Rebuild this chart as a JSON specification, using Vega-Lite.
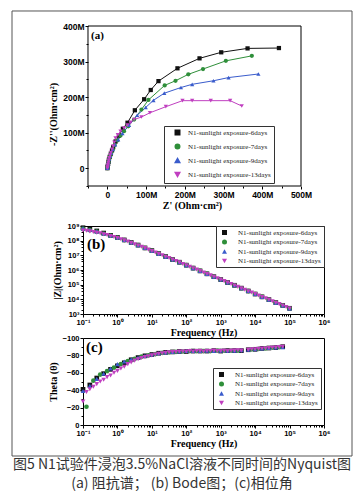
{
"$schema": "https://vega.github.io/schema/vega-lite/v6.json",
"background": "white",
"padding": {"left": 11, "top": 10, "right": 0, "bottom": 0},
"bounds": "flush",
"spacing": 24,
"title": {"text": ["图5 N1试验件浸泡3.5%NaCl溶液不同时间的Nyquist图", "(a) 阻抗谱； (b) Bode图；(c)相位角"], "orient": "bottom", "anchor": "middle", "frame": "bounds", "offset": 1, "font": "Noto Sans CJK SC", "fontSize": 14, "fontWeight": "normal", "color": "#333333", "lineHeight": 19},
"config": {
  "view": {"stroke": "#000000", "strokeWidth": 1},
  "axis": {"domain": false, "grid": false, "ticks": true, "tickColor": "#000000", "tickSize": 3, "labelFont": "Liberation Sans", "labelFontWeight": "bold", "labelFontSize": 7.5, "labelColor": "#000000", "labelPadding": 1, "labelFlush": false, "labelOverlap": false, "titleFont": "Liberation Serif", "titleFontWeight": "bold", "titleFontSize": 10, "titleColor": "#000000"},
  "axisX": {"titlePadding": 2},
  "axisY": {"titlePadding": 4},
  "legend": {"strokeColor": "#333333", "fillColor": "#ffffff", "padding": 3, "labelFont": "Liberation Serif", "labelFontSize": 7, "labelColor": "#222222", "rowPadding": 1.5, "labelLimit": 200, "labelOffset": 10, "symbolOffset": 2}
},
"datasets": {
  "nyq": [
    {"s":"6days","x":0,"y":0},{"s":"6days","x":0.5,"y":3},{"s":"6days","x":1,"y":7},{"s":"6days","x":2,"y":12},{"s":"6days","x":3,"y":18},{"s":"6days","x":4,"y":24},{"s":"6days","x":6,"y":32},{"s":"6days","x":9,"y":41},{"s":"6days","x":12,"y":50},{"s":"6days","x":15,"y":59},{"s":"6days","x":21,"y":75},{"s":"6days","x":30,"y":92},{"s":"6days","x":40,"y":111},{"s":"6days","x":52,"y":128},{"s":"6days","x":71,"y":163},{"s":"6days","x":95,"y":194},{"s":"6days","x":112,"y":220},{"s":"6days","x":132,"y":245},{"s":"6days","x":181,"y":281},{"s":"6days","x":238,"y":309},{"s":"6days","x":294,"y":326},{"s":"6days","x":362,"y":337},{"s":"6days","x":443,"y":338},
    {"s":"7days","x":0,"y":0},{"s":"7days","x":0.5,"y":3},{"s":"7days","x":1,"y":7},{"s":"7days","x":2,"y":13},{"s":"7days","x":3,"y":19},{"s":"7days","x":5,"y":26},{"s":"7days","x":7,"y":34},{"s":"7days","x":10,"y":43},{"s":"7days","x":14,"y":53},{"s":"7days","x":19,"y":65},{"s":"7days","x":26,"y":78},{"s":"7days","x":34,"y":92},{"s":"7days","x":43,"y":104},{"s":"7days","x":54,"y":118},{"s":"7days","x":69,"y":137},{"s":"7days","x":88,"y":165},{"s":"7days","x":106,"y":192},{"s":"7days","x":148,"y":233},{"s":"7days","x":176,"y":246},{"s":"7days","x":209,"y":264},{"s":"7days","x":247,"y":279},{"s":"7days","x":306,"y":302},{"s":"7days","x":373,"y":316},
    {"s":"9days","x":0,"y":0},{"s":"9days","x":0.5,"y":3},{"s":"9days","x":1,"y":7},{"s":"9days","x":2,"y":13},{"s":"9days","x":3,"y":19},{"s":"9days","x":5,"y":26},{"s":"9days","x":7,"y":34},{"s":"9days","x":10,"y":43},{"s":"9days","x":14,"y":53},{"s":"9days","x":20,"y":66},{"s":"9days","x":28,"y":80},{"s":"9days","x":39,"y":98},{"s":"9days","x":56,"y":121},{"s":"9days","x":77,"y":149},{"s":"9days","x":99,"y":171},{"s":"9days","x":119,"y":191},{"s":"9days","x":147,"y":211},{"s":"9days","x":190,"y":227},{"s":"9days","x":219,"y":236},{"s":"9days","x":274,"y":246},{"s":"9days","x":313,"y":255},{"s":"9days","x":390,"y":265},
    {"s":"13days","x":0,"y":0},{"s":"13days","x":0.3,"y":2},{"s":"13days","x":0.8,"y":5},{"s":"13days","x":1.5,"y":10},{"s":"13days","x":2.5,"y":16},{"s":"13days","x":3.5,"y":22},{"s":"13days","x":5,"y":29},{"s":"13days","x":7,"y":37},{"s":"13days","x":9,"y":44},{"s":"13days","x":12,"y":53},{"s":"13days","x":15,"y":62},{"s":"13days","x":18,"y":73},{"s":"13days","x":21,"y":85},{"s":"13days","x":27,"y":94},{"s":"13days","x":34,"y":104},{"s":"13days","x":43,"y":113},{"s":"13days","x":52,"y":121},{"s":"13days","x":60,"y":129},{"s":"13days","x":69,"y":137},{"s":"13days","x":88,"y":144},{"s":"13days","x":110,"y":156},{"s":"13days","x":151,"y":173},{"s":"13days","x":194,"y":190},{"s":"13days","x":219,"y":190},{"s":"13days","x":267,"y":190},{"s":"13days","x":317,"y":190},{"s":"13days","x":347,"y":175}
  ],
  "bode": [
    {"s":"6days","f":0.1,"z":7.6e8},{"s":"6days","f":0.158,"z":6.0e8},{"s":"6days","f":0.251,"z":4.6e8},{"s":"6days","f":0.398,"z":3.3e8},{"s":"6days","f":0.631,"z":2.3e8},{"s":"6days","f":1,"z":1.66e8},{"s":"6days","f":1.58,"z":1.12e8},{"s":"6days","f":2.51,"z":7.6e7},{"s":"6days","f":3.98,"z":5.0e7},{"s":"6days","f":6.31,"z":3.2e7},{"s":"6days","f":10,"z":2.1e7},{"s":"6days","f":15.8,"z":1.32e7},{"s":"6days","f":25.1,"z":8.3e6},{"s":"6days","f":39.8,"z":5.2e6},{"s":"6days","f":63.1,"z":3.4e6},{"s":"6days","f":100,"z":2.14e6},{"s":"6days","f":158,"z":1.35e6},{"s":"6days","f":251,"z":8.7e5},{"s":"6days","f":398,"z":5.5e5},{"s":"6days","f":631,"z":3.5e5},{"s":"6days","f":1000,"z":2.24e5},{"s":"6days","f":1580,"z":1.41e5},{"s":"6days","f":2510,"z":9.1e4},{"s":"6days","f":3980,"z":5.8e4},{"s":"6days","f":6310,"z":3.7e4},{"s":"6days","f":10000,"z":2.3e4},{"s":"6days","f":15800,"z":1.48e4},{"s":"6days","f":25100,"z":9.5e3},{"s":"6days","f":39800,"z":6.0e3},{"s":"6days","f":63100,"z":3.9e3},{"s":"6days","f":100000,"z":2.45e3},
    {"s":"7days","f":0.1,"z":6.3e8},{"s":"7days","f":0.158,"z":5.2e8},{"s":"7days","f":0.251,"z":4.1e8},{"s":"7days","f":0.398,"z":3.0e8},{"s":"7days","f":0.631,"z":2.2e8},{"s":"7days","f":1,"z":1.6e8},{"s":"7days","f":1.58,"z":1.1e8},{"s":"7days","f":2.51,"z":7.5e7},{"s":"7days","f":3.98,"z":4.9e7},{"s":"7days","f":6.31,"z":3.15e7},{"s":"7days","f":10,"z":2.05e7},{"s":"7days","f":15.8,"z":1.3e7},{"s":"7days","f":25.1,"z":8.2e6},{"s":"7days","f":39.8,"z":5.15e6},{"s":"7days","f":63.1,"z":3.35e6},{"s":"7days","f":100,"z":2.12e6},{"s":"7days","f":158,"z":1.34e6},{"s":"7days","f":251,"z":8.6e5},{"s":"7days","f":398,"z":5.45e5},{"s":"7days","f":631,"z":3.45e5},{"s":"7days","f":1000,"z":2.22e5},{"s":"7days","f":1580,"z":1.4e5},{"s":"7days","f":2510,"z":9.0e4},{"s":"7days","f":3980,"z":5.7e4},{"s":"7days","f":6310,"z":3.65e4},{"s":"7days","f":10000,"z":2.3e4},{"s":"7days","f":15800,"z":1.46e4},{"s":"7days","f":25100,"z":9.4e3},{"s":"7days","f":39800,"z":5.95e3},{"s":"7days","f":63100,"z":3.85e3},{"s":"7days","f":100000,"z":2.42e3},
    {"s":"9days","f":0.1,"z":6.9e8},{"s":"9days","f":0.158,"z":5.5e8},{"s":"9days","f":0.251,"z":4.3e8},{"s":"9days","f":0.398,"z":3.1e8},{"s":"9days","f":0.631,"z":2.25e8},{"s":"9days","f":1,"z":1.62e8},{"s":"9days","f":1.58,"z":1.1e8},{"s":"9days","f":2.51,"z":7.5e7},{"s":"9days","f":3.98,"z":4.9e7},{"s":"9days","f":6.31,"z":3.15e7},{"s":"9days","f":10,"z":2.05e7},{"s":"9days","f":15.8,"z":1.3e7},{"s":"9days","f":25.1,"z":8.2e6},{"s":"9days","f":39.8,"z":5.15e6},{"s":"9days","f":63.1,"z":3.35e6},{"s":"9days","f":100,"z":2.12e6},{"s":"9days","f":158,"z":1.34e6},{"s":"9days","f":251,"z":8.6e5},{"s":"9days","f":398,"z":5.45e5},{"s":"9days","f":631,"z":3.45e5},{"s":"9days","f":1000,"z":2.22e5},{"s":"9days","f":1580,"z":1.4e5},{"s":"9days","f":2510,"z":9.0e4},{"s":"9days","f":3980,"z":5.7e4},{"s":"9days","f":6310,"z":3.65e4},{"s":"9days","f":10000,"z":2.3e4},{"s":"9days","f":15800,"z":1.46e4},{"s":"9days","f":25100,"z":9.4e3},{"s":"9days","f":39800,"z":5.95e3},{"s":"9days","f":63100,"z":3.85e3},{"s":"9days","f":100000,"z":2.42e3},
    {"s":"13days","f":0.1,"z":5.0e8},{"s":"13days","f":0.126,"z":4.7e8},{"s":"13days","f":0.158,"z":4.3e8},{"s":"13days","f":0.2,"z":3.9e8},{"s":"13days","f":0.251,"z":3.5e8},{"s":"13days","f":0.316,"z":3.2e8},{"s":"13days","f":0.398,"z":2.75e8},{"s":"13days","f":0.501,"z":2.4e8},{"s":"13days","f":0.631,"z":2.1e8},{"s":"13days","f":0.794,"z":1.78e8},{"s":"13days","f":1,"z":1.5e8},{"s":"13days","f":1.26,"z":1.26e8},{"s":"13days","f":1.58,"z":1.05e8},{"s":"13days","f":2,"z":8.7e7},{"s":"13days","f":2.51,"z":7.1e7},{"s":"13days","f":3.16,"z":5.75e7},{"s":"13days","f":3.98,"z":4.7e7},{"s":"13days","f":5.01,"z":3.8e7},{"s":"13days","f":6.31,"z":3.1e7},{"s":"13days","f":7.94,"z":2.45e7},{"s":"13days","f":10,"z":2.0e7},{"s":"13days","f":12.6,"z":1.58e7},{"s":"13days","f":15.8,"z":1.26e7},{"s":"13days","f":20,"z":1.02e7},{"s":"13days","f":25.1,"z":8.1e6},{"s":"13days","f":31.6,"z":6.5e6},{"s":"13days","f":39.8,"z":5.1e6},{"s":"13days","f":50.1,"z":4.1e6},{"s":"13days","f":63.1,"z":3.3e6},{"s":"13days","f":79.4,"z":2.6e6},{"s":"13days","f":100,"z":2.1e6},{"s":"13days","f":126,"z":1.66e6},{"s":"13days","f":158,"z":1.32e6},{"s":"13days","f":200,"z":1.07e6},{"s":"13days","f":251,"z":8.5e5},{"s":"13days","f":316,"z":6.8e5},{"s":"13days","f":398,"z":5.4e5},{"s":"13days","f":501,"z":4.3e5},{"s":"13days","f":631,"z":3.5e5},{"s":"13days","f":794,"z":2.75e5},{"s":"13days","f":1000,"z":2.2e5},{"s":"13days","f":1260,"z":1.74e5},{"s":"13days","f":1580,"z":1.38e5},{"s":"13days","f":2000,"z":1.12e5},{"s":"13days","f":2510,"z":8.9e4},{"s":"13days","f":3160,"z":7.1e4},{"s":"13days","f":3980,"z":5.6e4},{"s":"13days","f":5010,"z":4.5e4},{"s":"13days","f":6310,"z":3.6e4},{"s":"13days","f":7940,"z":2.9e4},{"s":"13days","f":10000,"z":2.3e4},{"s":"13days","f":12600,"z":1.82e4},{"s":"13days","f":15800,"z":1.45e4},{"s":"13days","f":20000,"z":1.17e4},{"s":"13days","f":25100,"z":9.3e3},{"s":"13days","f":31600,"z":7.4e3},{"s":"13days","f":39800,"z":5.9e3},{"s":"13days","f":50100,"z":4.7e3},{"s":"13days","f":63100,"z":3.8e3},{"s":"13days","f":79400,"z":3.0e3},{"s":"13days","f":100000,"z":2.4e3}
  ],
  "ph": [
    {"s":"6days","f":0.1,"p":-41},{"s":"6days","f":0.158,"p":-46},{"s":"6days","f":0.251,"p":-54},{"s":"6days","f":0.398,"p":-59},{"s":"6days","f":0.631,"p":-64},{"s":"6days","f":1,"p":-68},{"s":"6days","f":1.58,"p":-71.5},{"s":"6days","f":2.51,"p":-75},{"s":"6days","f":3.98,"p":-77.5},{"s":"6days","f":6.31,"p":-79.5},{"s":"6days","f":10,"p":-81},{"s":"6days","f":15.8,"p":-82.5},{"s":"6days","f":25.1,"p":-83.5},{"s":"6days","f":39.8,"p":-84},{"s":"6days","f":63.1,"p":-84.5},{"s":"6days","f":100,"p":-84.5},{"s":"6days","f":158,"p":-85},{"s":"6days","f":251,"p":-85},{"s":"6days","f":398,"p":-85},{"s":"6days","f":631,"p":-85.5},{"s":"6days","f":1000,"p":-85},{"s":"6days","f":1580,"p":-85.5},{"s":"6days","f":2510,"p":-85.5},{"s":"6days","f":3980,"p":-85.5},{"s":"6days","f":6310,"p":-86.5},{"s":"6days","f":10000,"p":-87},{"s":"6days","f":15800,"p":-88},{"s":"6days","f":25100,"p":-88.5},{"s":"6days","f":39800,"p":-89},{"s":"6days","f":63100,"p":-90},
    {"s":"7days","f":0.126,"p":-21},{"s":"7days","f":0.2,"p":-51},{"s":"7days","f":0.316,"p":-58},{"s":"7days","f":0.501,"p":-62},{"s":"7days","f":0.794,"p":-66},{"s":"7days","f":1.26,"p":-70},{"s":"7days","f":2,"p":-73.5},{"s":"7days","f":3.16,"p":-76},{"s":"7days","f":5.01,"p":-78.5},{"s":"7days","f":7.94,"p":-80},{"s":"7days","f":12.6,"p":-81.5},{"s":"7days","f":20,"p":-83},{"s":"7days","f":31.6,"p":-83.5},{"s":"7days","f":50.1,"p":-84},{"s":"7days","f":79.4,"p":-84.5},{"s":"7days","f":126,"p":-85},{"s":"7days","f":200,"p":-85},{"s":"7days","f":316,"p":-85},{"s":"7days","f":501,"p":-85},{"s":"7days","f":794,"p":-85.5},{"s":"7days","f":1260,"p":-85.5},{"s":"7days","f":2000,"p":-85.5},{"s":"7days","f":3160,"p":-85.5},{"s":"7days","f":7940,"p":-87},{"s":"7days","f":12600,"p":-87.5},{"s":"7days","f":20000,"p":-88},{"s":"7days","f":31600,"p":-89},{"s":"7days","f":50100,"p":-89.5},
    {"s":"9days","f":0.1,"p":-39},{"s":"9days","f":0.158,"p":-45},{"s":"9days","f":0.251,"p":-53},{"s":"9days","f":0.398,"p":-59},{"s":"9days","f":0.631,"p":-65},{"s":"9days","f":1,"p":-70},{"s":"9days","f":1.58,"p":-73},{"s":"9days","f":2.51,"p":-75.5},{"s":"9days","f":3.98,"p":-77.5},{"s":"9days","f":6.31,"p":-79.5},{"s":"9days","f":10,"p":-81},{"s":"9days","f":15.8,"p":-82.5},{"s":"9days","f":25.1,"p":-83.5},{"s":"9days","f":39.8,"p":-84},{"s":"9days","f":63.1,"p":-84.5},{"s":"9days","f":100,"p":-85},{"s":"9days","f":158,"p":-85},{"s":"9days","f":251,"p":-85},{"s":"9days","f":398,"p":-85.5},{"s":"9days","f":631,"p":-85},{"s":"9days","f":1000,"p":-85.5},{"s":"9days","f":1580,"p":-85.5},{"s":"9days","f":2510,"p":-85.5},{"s":"9days","f":3980,"p":-86},{"s":"9days","f":6310,"p":-86.5},{"s":"9days","f":10000,"p":-87},{"s":"9days","f":15800,"p":-88},{"s":"9days","f":25100,"p":-88.5},{"s":"9days","f":39800,"p":-89},{"s":"9days","f":63100,"p":-89.5},
    {"s":"13days","f":0.1,"p":-27},{"s":"13days","f":0.126,"p":-38},{"s":"13days","f":0.158,"p":-41},{"s":"13days","f":0.2,"p":-44},{"s":"13days","f":0.251,"p":-47},{"s":"13days","f":0.316,"p":-50},{"s":"13days","f":0.398,"p":-52},{"s":"13days","f":0.501,"p":-55},{"s":"13days","f":0.631,"p":-57},{"s":"13days","f":0.794,"p":-60},{"s":"13days","f":1,"p":-62},{"s":"13days","f":1.26,"p":-65},{"s":"13days","f":1.58,"p":-67},{"s":"13days","f":2,"p":-70},{"s":"13days","f":2.51,"p":-72},{"s":"13days","f":3.16,"p":-74},{"s":"13days","f":3.98,"p":-75.5},{"s":"13days","f":5.01,"p":-77},{"s":"13days","f":6.31,"p":-78},{"s":"13days","f":7.94,"p":-79},{"s":"13days","f":10,"p":-80},{"s":"13days","f":12.6,"p":-81},{"s":"13days","f":15.8,"p":-82},{"s":"13days","f":20,"p":-82.5},{"s":"13days","f":25.1,"p":-83},{"s":"13days","f":31.6,"p":-83.5},{"s":"13days","f":39.8,"p":-84},{"s":"13days","f":50.1,"p":-84},{"s":"13days","f":63.1,"p":-84.5},{"s":"13days","f":79.4,"p":-84.5},{"s":"13days","f":100,"p":-84.5},{"s":"13days","f":126,"p":-85},{"s":"13days","f":158,"p":-84.5},{"s":"13days","f":200,"p":-85},{"s":"13days","f":251,"p":-85},{"s":"13days","f":316,"p":-84.5},{"s":"13days","f":398,"p":-85},{"s":"13days","f":501,"p":-85},{"s":"13days","f":631,"p":-85.5},{"s":"13days","f":794,"p":-85},{"s":"13days","f":1000,"p":-85},{"s":"13days","f":1260,"p":-85.5},{"s":"13days","f":1580,"p":-85},{"s":"13days","f":2000,"p":-85.5},{"s":"13days","f":2510,"p":-85.5},{"s":"13days","f":3160,"p":-86},{"s":"13days","f":3980,"p":-85.5},{"s":"13days","f":6310,"p":-86.5},{"s":"13days","f":7940,"p":-87},{"s":"13days","f":10000,"p":-87},{"s":"13days","f":12600,"p":-87.5},{"s":"13days","f":15800,"p":-88},{"s":"13days","f":20000,"p":-88},{"s":"13days","f":25100,"p":-88.5},{"s":"13days","f":31600,"p":-89},{"s":"13days","f":39800,"p":-89},{"s":"13days","f":50100,"p":-89.5},{"s":"13days","f":63100,"p":-90}
  ]
},
"vconcat": [
  {
    "width": 218, "height": 176,
    "view": {"stroke": null},
    "resolve": {"axis": {"x": "independent", "y": "independent"}},
    "layer": [
      {"data": {"values": [{}]}, "mark": {"type": "rect", "filled": false, "stroke": "#555555", "strokeWidth": 1, "clip": false},
       "encoding": {"x": {"datum": -246.2, "type": "quantitative", "axis": null}, "x2": {"datum": 631.7}, "y": {"datum": 442.2, "type": "quantitative", "axis": null}, "y2": {"datum": -809.4}}},
      {"data": {"values": [{}]}, "mark": {"type": "rect", "filled": false, "stroke": "#000000", "strokeWidth": 1},
       "encoding": {
         "x": {"datum": -50, "type": "quantitative", "axis": {"orient": "bottom", "values": [-50, 50, 150, 250, 350, 450], "offset": -16, "labels": false, "tickSize": 2, "title": null}},
         "x2": {"datum": 500},
         "y": {"datum": 400, "type": "quantitative", "axis": {"orient": "left", "values": [-50, 50, 150, 250, 350], "offset": -5, "labels": false, "tickSize": 2, "title": null}},
         "y2": {"datum": -50}}},
      {"data": {"name": "nyq"}, "mark": {"type": "line", "strokeWidth": 1},
       "encoding": {
         "x": {"field": "x", "type": "quantitative", "scale": {"domain": [-62.9, 500], "nice": false, "zero": false}, "axis": {"orient": "bottom", "values": [0, 100, 200, 300, 400, 500], "offset": -16, "labelExpr": "datum.value == 0 ? '0' : datum.value + 'M'", "labelFontSize": 8.5, "title": "Z' (Ohm·cm²)"}},
         "y": {"field": "y", "type": "quantitative", "scale": {"domain": [-95, 400], "nice": false, "zero": false}, "axis": {"orient": "left", "values": [0, 100, 200, 300, 400], "offset": -5, "labelExpr": "datum.value == 0 ? '0' : datum.value + 'M'", "labelFontSize": 8.5, "title": "-Z''(Ohm·cm²)"}},
         "color": {"field": "s", "type": "nominal", "scale": {"domain": ["6days", "7days", "9days", "13days"], "range": ["#111111", "#2f8f3a", "#3a5ccc", "#c03fc0"]},
           "legend": {"title": null, "orient": "none", "legendX": 81, "legendY": 100, "labelExpr": "'N1-sunlight exposure-' + datum.label", "symbolSize": 20, "rowPadding": 3, "symbolOffset": 7, "labelOffset": 7}}
       }},
      {"data": {"name": "nyq"}, "mark": {"type": "point", "filled": true, "size": 18, "opacity": 1},
       "encoding": {
         "x": {"field": "x", "type": "quantitative", "axis": null},
         "y": {"field": "y", "type": "quantitative", "axis": null},
         "color": {"field": "s", "type": "nominal",
           "legend": {"title": null, "orient": "none", "legendX": 81, "legendY": 100, "labelExpr": "'N1-sunlight exposure-' + datum.label", "symbolSize": 20, "rowPadding": 3, "symbolOffset": 7, "labelOffset": 7}},
         "shape": {"field": "s", "type": "nominal", "scale": {"domain": ["6days", "7days", "9days", "13days"], "range": ["square", "circle", "triangle-up", "triangle-down"]},
           "legend": {"title": null, "orient": "none", "legendX": 81, "legendY": 100, "labelExpr": "'N1-sunlight exposure-' + datum.label", "symbolSize": 20, "rowPadding": 3, "symbolOffset": 7, "labelOffset": 7}}
       }},
      {"data": {"values": [{}]}, "mark": {"type": "text", "text": "(a)", "font": "Liberation Serif", "fontWeight": "bold", "fontSize": 11, "align": "left", "baseline": "middle", "color": "#000000"},
       "encoding": {"x": {"datum": -42.3, "type": "quantitative", "axis": null}, "y": {"datum": 372, "type": "quantitative", "axis": null}}}
    ]
  },
  {
    "width": 241, "height": 88,
    "resolve": {"axis": {"x": "independent", "y": "independent"}},
    "layer": [
      {"data": {"name": "bode"}, "mark": {"type": "point", "filled": true, "size": 22, "opacity": 1},
       "encoding": {
         "x": {"field": "f", "type": "quantitative", "scale": {"type": "log", "domain": [0.1, 1000000], "nice": false}, "axis": {"orient": "bottom", "values": [0.1, 1, 10, 100, 1000, 10000, 100000, 1000000], "labelOverlap": false, "labelExpr": "['10⁻¹','10⁰','10¹','10²','10³','10⁴','10⁵','10⁶','10⁷','10⁸','10⁹'][round(log(datum.value)/LN10)+1]", "title": "Frequency (Hz)"}},
         "y": {"field": "z", "type": "quantitative", "scale": {"type": "log", "domain": [1000, 1000000000], "nice": false}, "axis": {"orient": "left", "values": [1000, 10000, 100000, 1000000, 10000000, 100000000, 1000000000], "labelOverlap": false, "labelExpr": "['10⁻¹','10⁰','10¹','10²','10³','10⁴','10⁵','10⁶','10⁷','10⁸','10⁹'][round(log(datum.value)/LN10)+1]", "title": "|Z|(Ohm·cm²)"}},
         "color": {"field": "s", "type": "nominal", "scale": {"domain": ["6days", "7days", "9days", "13days"], "range": ["#111111", "#2f8f3a", "#3a5ccc", "#c03fc0"]}, "legend": {"title": null, "orient": "top-right", "offset": 0, "labelExpr": "'N1-sunlight exposure-' + datum.label", "symbolSize": 25}},
         "shape": {"field": "s", "type": "nominal", "scale": {"domain": ["6days", "7days", "9days", "13days"], "range": ["square", "circle", "triangle-up", "triangle-down"]}, "legend": {"title": null, "orient": "top-right", "offset": 0, "labelExpr": "'N1-sunlight exposure-' + datum.label", "symbolSize": 25}}
       }},
      {"data": {"values": [{}]}, "mark": {"type": "text", "text": "(b)", "font": "Liberation Serif", "fontWeight": "bold", "fontSize": 15, "align": "left", "baseline": "middle", "color": "#000000"},
       "encoding": {
         "x": {"datum": 0.13, "type": "quantitative", "axis": {"orient": "bottom", "labels": false, "tickSize": 2, "title": null, "values": [0.2,0.3,0.4,0.5,0.6,0.7,0.8,0.9,2,3,4,5,6,7,8,9,20,30,40,50,60,70,80,90,200,300,400,500,600,700,800,900,2000,3000,4000,5000,6000,7000,8000,9000,20000,30000,40000,50000,60000,70000,80000,90000,200000,300000,400000,500000,600000,700000,800000,900000]}},
         "y": {"datum": 55000000, "type": "quantitative", "axis": {"orient": "left", "labels": false, "tickSize": 2, "title": null, "values": [2000,4000,6000,8000,20000,40000,60000,80000,200000,400000,600000,800000,2000000,4000000,6000000,8000000,20000000,40000000,60000000,80000000,200000000,400000000,600000000,800000000]}}}}
    ]
  },
  {
    "width": 241, "height": 87,
    "resolve": {"axis": {"x": "independent", "y": "independent"}},
    "layer": [
      {"data": {"name": "ph"}, "mark": {"type": "point", "filled": true, "size": 22, "opacity": 1},
       "encoding": {
         "x": {"field": "f", "type": "quantitative", "scale": {"type": "log", "domain": [0.1, 1000000], "nice": false}, "axis": {"orient": "bottom", "values": [0.1, 1, 10, 100, 1000, 10000, 100000, 1000000], "labelOverlap": false, "labelExpr": "['10⁻¹','10⁰','10¹','10²','10³','10⁴','10⁵','10⁶'][round(log(datum.value)/LN10)+1]", "title": "Frequency (Hz)"}},
         "y": {"field": "p", "type": "quantitative", "scale": {"domain": [-100, 0], "reverse": true, "nice": false, "zero": false}, "axis": {"orient": "left", "values": [-100, -80, -60, -40, -20, 0], "labelOverlap": false, "title": "Theta (θ)"}},
         "color": {"field": "s", "type": "nominal", "scale": {"domain": ["6days", "7days", "9days", "13days"], "range": ["#111111", "#2f8f3a", "#3a5ccc", "#c03fc0"]}, "legend": {"title": null, "orient": "none", "legendX": 130, "legendY": 30, "labelExpr": "'N1-sunlight exposure-' + datum.label", "symbolSize": 25}},
         "shape": {"field": "s", "type": "nominal", "scale": {"domain": ["6days", "7days", "9days", "13days"], "range": ["square", "circle", "triangle-up", "triangle-down"]}, "legend": {"title": null, "orient": "none", "legendX": 130, "legendY": 30, "labelExpr": "'N1-sunlight exposure-' + datum.label", "symbolSize": 25}}
       }},
      {"data": {"values": [{}]}, "mark": {"type": "text", "text": "(c)", "font": "Liberation Serif", "fontWeight": "bold", "fontSize": 15, "align": "left", "baseline": "middle", "color": "#000000"},
       "encoding": {
         "x": {"datum": 0.122, "type": "quantitative", "axis": {"orient": "bottom", "labels": false, "tickSize": 2, "title": null, "values": [0.2,0.3,0.4,0.5,0.6,0.7,0.8,0.9,2,3,4,5,6,7,8,9,20,30,40,50,60,70,80,90,200,300,400,500,600,700,800,900,2000,3000,4000,5000,6000,7000,8000,9000,20000,30000,40000,50000,60000,70000,80000,90000,200000,300000,400000,500000,600000,700000,800000,900000]}},
         "y": {"datum": -89.1, "type": "quantitative", "axis": {"orient": "left", "labels": false, "tickSize": 2, "title": null, "values": [-90, -70, -50, -30, -10]}}}}
    ]
  }
]
}
